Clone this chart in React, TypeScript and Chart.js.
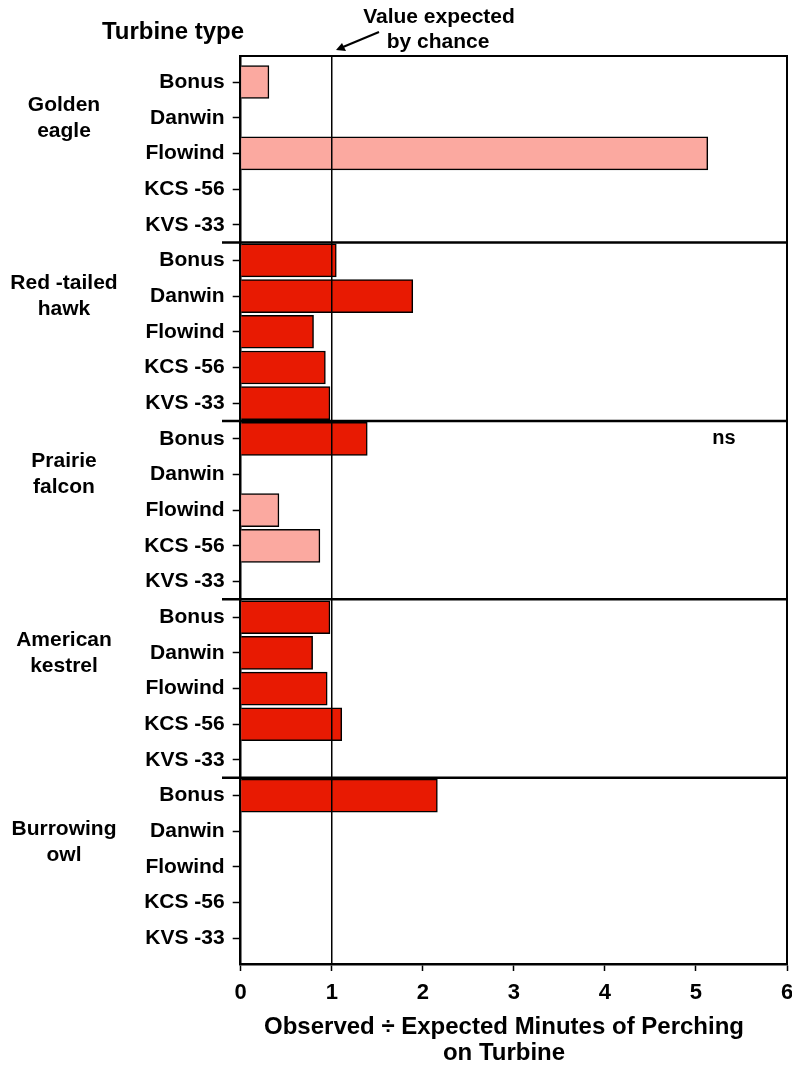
import React, { useEffect, useRef } from "react";
import { Chart, registerables } from "chart.js";

Chart.register(...registerables);

const turbines = ["Bonus", "Danwin", "Flowind", "KCS -56", "KVS -33"];
const species = [
  ["Golden", "eagle"],
  ["Red -tailed", "hawk"],
  ["Prairie", "falcon"],
  ["American", "kestrel"],
  ["Burrowing", "owl"],
];
const goldenEagle = [0.31, null, 5.13, null, null];
const redTailedHawk = [1.05, 1.89, 0.8, 0.93, 0.98];
const prairieFalcon = [1.39, null, 0.42, 0.87, null];
const americanKestrel = [0.98, 0.79, 0.95, 1.11, null];
const burrowingOwl = [2.16, null, null, null, null];
// true = significant (dark red), false = not significant (pink)
const goldenEagleSig = [false, false, false, false, false];
const redTailedHawkSig = [true, true, true, true, true];
const prairieFalconSig = [true, false, false, false, false];
const americanKestrelSig = [true, true, true, true, true];
const burrowingOwlSig = [true, false, false, false, false];
const xTicks = [0, 1, 2, 3, 4, 5, 6];
const expectedValue = 1;

const FONT = "'Liberation Sans', Arial, Helvetica, sans-serif";
const RED = "#E81A02";
const PINK = "#FBA9A0";

export default function App() {
  const ref = useRef<HTMLCanvasElement>(null);

  useEffect(() => {
    const seriesValues = [goldenEagle, redTailedHawk, prairieFalcon, americanKestrel, burrowingOwl];
    const seriesSig = [goldenEagleSig, redTailedHawkSig, prairieFalconSig, americanKestrelSig, burrowingOwlSig];
    const labels: string[] = [];
    const data: { x: number | null; y: number }[] = [];
    const colors: string[] = [];
    seriesValues.forEach((vals, g) => {
      vals.forEach((v, t) => {
        const idx = g * turbines.length + t;
        labels.push(turbines[t]);
        data.push({ x: v, y: idx });
        colors.push(seriesSig[g][t] ? RED : PINK);
      });
    });
    const n = labels.length;

    const overlay = {
      id: "overlay",
      afterDatasetsDraw(chart: any) {
        const { ctx, chartArea, scales } = chart;
        const xs = scales.x;
        const ys = scales.y;
        ctx.save();
        // top & right border
        ctx.strokeStyle = "#000";
        ctx.lineWidth = 2;
        ctx.beginPath();
        ctx.moveTo(chartArea.left, chartArea.top);
        ctx.lineTo(chartArea.right, chartArea.top);
        ctx.lineTo(chartArea.right, chartArea.bottom);
        ctx.stroke();
        // expected line
        const x1 = xs.getPixelForValue(expectedValue);
        ctx.lineWidth = 1.5;
        ctx.beginPath();
        ctx.moveTo(x1, chartArea.top);
        ctx.lineTo(x1, chartArea.bottom);
        ctx.stroke();
        // group separators
        ctx.lineWidth = 2.5;
        for (let g = 1; g < species.length; g++) {
          const y = ys.getPixelForValue(g * turbines.length - 0.5);
          ctx.beginPath();
          ctx.moveTo(222, y);
          ctx.lineTo(chartArea.right, y);
          ctx.stroke();
        }
        // group labels
        ctx.fillStyle = "#000";
        ctx.font = `bold 21px ${FONT}`;
        ctx.textAlign = "center";
        ctx.textBaseline = "middle";
        species.forEach((lines, g) => {
          const off = g === species.length - 1 ? 1.3 : 1;
          const cy = ys.getPixelForValue(g * turbines.length + off);
          ctx.fillText(lines[0], 64, cy - 13);
          ctx.fillText(lines[1], 64, cy + 13);
        });
        // title
        ctx.font = `bold 24px ${FONT}`;
        ctx.fillText("Turbine type", 173, 32);
        ctx.font = `bold 21px ${FONT}`;
        ctx.fillText("Value expected", 439, 17);
        ctx.fillText("by chance", 438, 42);
        // arrow
        ctx.lineWidth = 2;
        ctx.beginPath();
        ctx.moveTo(379, 32);
        ctx.lineTo(343, 47);
        ctx.stroke();
        ctx.beginPath();
        ctx.moveTo(336, 50);
        ctx.lineTo(342, 43);
        ctx.lineTo(346, 51);
        ctx.closePath();
        ctx.fill();
        // ns
        ctx.font = `bold 20px ${FONT}`;
        ctx.fillText("ns", 724, 438);
        // x title
        ctx.font = `bold 24px ${FONT}`;
        ctx.fillText("Observed \u00f7 Expected Minutes of Perching", 504, 1027);
        ctx.fillText("on Turbine", 504, 1053);
        ctx.restore();
      },
    };

    const chart = new Chart(ref.current!, {
      type: "bar",
      data: {
        datasets: [
          {
            data: data as any,
            backgroundColor: colors,
            borderColor: "#000",
            borderWidth: 1.5,
            barThickness: 33,
          },
        ],
      },
      options: {
        indexAxis: "y",
        animation: false,
        responsive: false,
        layout: { padding: { left: 0, top: 56, right: 5, bottom: 0 }, autoPadding: false } as any,
        plugins: { legend: { display: false }, tooltip: { enabled: false } },
        scales: {
          y: {
            type: "linear",
            reverse: true,
            offset: false,
            min: -0.73,
            max: n - 1 + 0.72,
            afterFit: (s: any) => {
              s.width = 240.7;
              s.paddingTop = 0;
              s.paddingBottom = 0;
            },
            afterBuildTicks: (s: any) => {
              s.ticks = labels.map((_, i) => ({ value: i }));
            },
            ticks: {
              callback: (v: any) => labels[v as number] ?? "",
              color: "#000",
              font: { family: FONT, size: 21, weight: "bold" },
              padding: 8,
              autoSkip: false,
            },
            grid: { offset: false, drawOnChartArea: false, drawTicks: true, tickLength: 8, color: "#000", tickWidth: 1.5 },
            border: { display: true, color: "#000", width: 2.5 },
          },
          x: {
            type: "linear",
            offset: false,
            min: xTicks[0],
            max: xTicks[xTicks.length - 1],
            afterFit: (s: any) => {
              s.height = 1069 - 964;
              s.paddingLeft = 0;
              s.paddingRight = 0;
            },
            afterBuildTicks: (s: any) => {
              s.ticks = xTicks.map((v) => ({ value: v }));
            },
            ticks: {
              color: "#000",
              font: { family: FONT, size: 22, weight: "bold" },
              padding: 9,
            },
            grid: { offset: false, drawOnChartArea: false, drawTicks: true, tickLength: 7, color: "#000", tickWidth: 1.5 },
            border: { display: true, color: "#000", width: 2.5 },
          },
        },
      },
      plugins: [overlay],
    });
    return () => chart.destroy();
  }, []);

  return (
    <div style={{ position: "absolute", left: 0, top: 0, width: 792, height: 1069, overflow: "hidden", background: "#fff" }}>
      <canvas ref={ref} width={792} height={1069} style={{ display: "block" }} />
    </div>
  );
}
